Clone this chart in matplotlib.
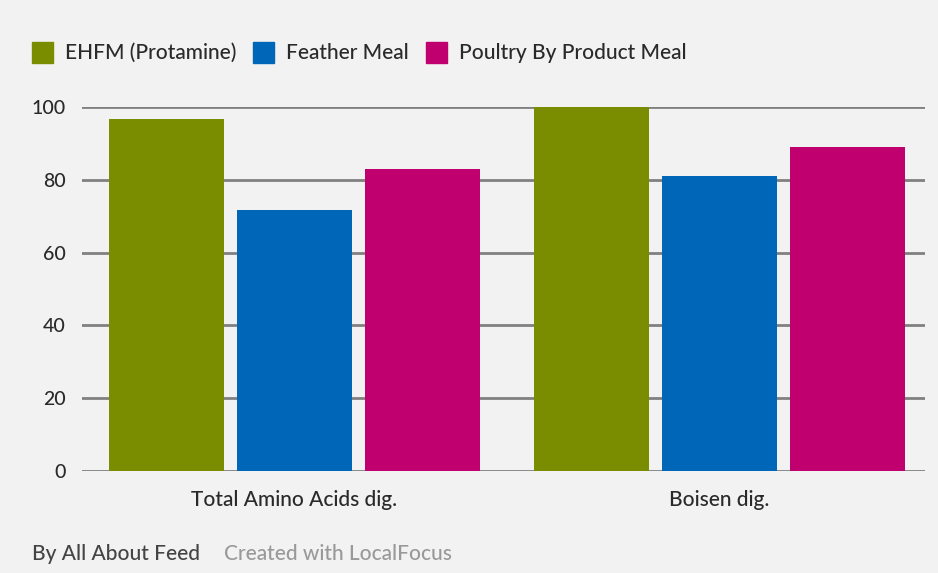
import numpy as np
import matplotlib
matplotlib.use('Agg')
import matplotlib.pyplot as plt
from matplotlib.patches import Rectangle

#=====================
# Data
#=====================
categories = ['Total Amino Acids dig.', 'Boisen dig.']
series = ['EHFM (Protamine)', 'Feather Meal', 'Poultry By Product Meal']
ehfm = [96.7, 100.0]
feather = [71.7, 81.0]
poultry = [83.0, 89.0]
colors = ['#7a8c00', '#0066b8', '#c0006e']
yticks = [0, 20, 40, 60, 80, 100]

plt.rcParams['font.family'] = ['Lato', 'DejaVu Sans']
FS = 15
FW = 'medium'

bg = '#f2f2f2'
W, H, DPI = 938, 573, 100
fig = plt.figure(figsize=(W/DPI, H/DPI), dpi=DPI, facecolor=bg)
ax = fig.add_axes([82/W, 1-471/H, (925-82)/W, (471-107)/H])
ax.set_facecolor(bg)

x = np.arange(len(categories))
bw = 0.27
off = 0.301
for i, vals in enumerate([ehfm, feather, poultry]):
    ax.bar(x + (i-1)*off, vals, width=bw, color=colors[i], zorder=3)

ax.set_ylim(0, 100)
ax.set_xlim(-0.5, 1.483)
ax.set_yticks(yticks)
ax.set_yticklabels([str(v) for v in yticks], fontsize=FS-1, color='#2a2a2a', fontweight=FW)
ax.yaxis.grid(True, color='#808080', linewidth=2, zorder=1)
ax.tick_params(axis='y', length=0, pad=12)
ax.set_xticks(x)
ax.set_xticklabels(categories, fontsize=FS, color='#2a2a2a', fontweight=FW)
ax.tick_params(axis='x', length=0, pad=14)
for s in ax.spines.values():
    s.set_visible(False)

#----- legend
lx = 32
for i, name in enumerate(series):
    fig.patches.append(Rectangle((lx/W, 1-63/H), 21/W, 21/H, transform=fig.transFigure,
                                 color=colors[i]))
    t = fig.text((lx+33)/W, 1-53/H, name, fontsize=FS, color='#2a2a2a', va='center',
                 ha='left', fontweight=FW)
    fig.canvas.draw()
    bb = t.get_window_extent()
    lx = bb.x1 + 17

#----- footer
t1 = fig.text(32/W, 1-554/H, 'By All About Feed', fontsize=FS, color='#444444', va='center',
              fontweight=FW)
fig.canvas.draw()
bb = t1.get_window_extent()
fig.text((bb.x1+24)/W, 1-554/H, 'Created with LocalFocus', fontsize=FS, color='#999999',
         va='center', fontweight=FW)

fig.savefig('out.png', dpi=DPI, facecolor=bg)
